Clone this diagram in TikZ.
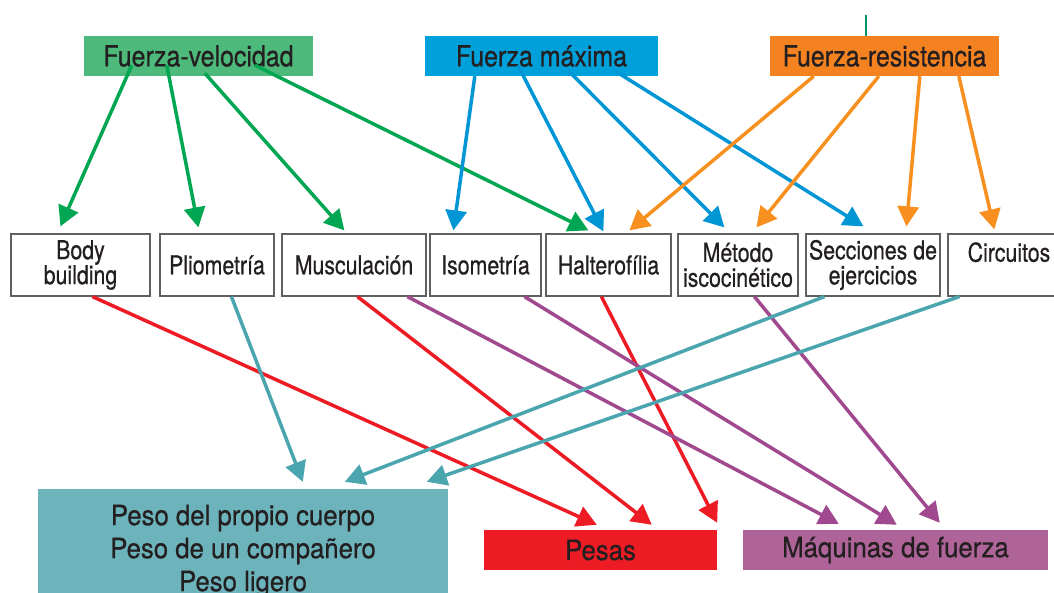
\documentclass[tikz,border=0pt]{standalone}
\usepackage{fontspec}
\setmainfont{TeX Gyre Heros}
\newfontfamily\topfont{TeX Gyre Heros}[FakeStretch=0.86,FakeBold=0.6]
\newfontfamily\midfont{TeX Gyre Heros}[FakeStretch=0.82,FakeBold=0.6]
\newfontfamily\lowfont{TeX Gyre Heros}[FakeStretch=0.92,FakeBold=0.6]
\usetikzlibrary{arrows.meta}

\definecolor{ink}{HTML}{231F20}
\definecolor{velfill}{HTML}{4DB97A}
\definecolor{velline}{HTML}{00A651}
\definecolor{maxfill}{HTML}{00A0DA}
\definecolor{maxline}{HTML}{0095D5}
\definecolor{resfill}{HTML}{F58220}
\definecolor{resline}{HTML}{F7901E}
\definecolor{pesred}{HTML}{ED1C24}
\definecolor{maqfill}{HTML}{AE6498}
\definecolor{maqline}{HTML}{A0498F}
\definecolor{cuefill}{HTML}{6DB3BB}
\definecolor{cueline}{HTML}{4AA5AE}
\definecolor{tickgreen}{HTML}{00946A}
\definecolor{boxgray}{HTML}{606060}

\begin{document}
\begin{tikzpicture}[x=1pt,y=-1pt]
        \tikzstyle{every node}+=[inner sep=0pt, text=ink]
        \tikzstyle{topbox}=[minimum height=40pt, font=\topfont\fontsize{29}{29}\selectfont]
        \tikzstyle{midbox}=[draw=boxgray, line width=1.2pt, fill=white, minimum height=62pt, align=center, font=\midfont\fontsize{26}{25}\selectfont]
        \tikzstyle{lowbox}=[align=center, font=\lowfont\fontsize{28}{33}\selectfont]
        \tikzstyle{arr}=[line width=3.5pt, -{Triangle[length=20pt,width=21pt]}]
        \useasboundingbox (0,0) rectangle (1054,593);
        \clip (0,0) rectangle (1054,593);
        \node [topbox, fill=velfill, minimum width=229pt] (vel) at (198.5,56) {Fuerza-velocidad};
        \node [topbox, fill=maxfill, minimum width=233pt] (max) at (541.5,56) {Fuerza máxima};
        \node [topbox, fill=resfill, minimum width=229pt] (res) at (884.5,56) {Fuerza-resistencia};
        \draw [tickgreen, line width=2pt] ([xshift=96pt]res.north west) -- ++(0,-21);
        \node [midbox, minimum width=139pt] (body) at (80.5,265) {Body\\building};
        \node [midbox, minimum width=114pt] (plio) at (217,265) {Pliometría};
        \node [midbox, minimum width=144pt] (musc) at (354,265) {Musculación};
        \node [midbox, minimum width=111pt] (iso) at (485.5,265) {Isometría};
        \node [midbox, minimum width=125pt] (halt) at (608.5,265) {Halterofília};
        \node [midbox, minimum width=120pt] (iscoc) at (738,265) {Método\\iscocinético};
        \node [midbox, minimum width=134pt] (secc) at (873,265) {Secciones de\\ejercicios};
        \node [midbox, minimum width=122pt, text depth=26pt] (circ) at (1009,265) {Circuitos};
        \node [lowbox, fill=cuefill, minimum width=410pt, minimum height=124pt] (cuerpo) at (243,551) {Peso del propio cuerpo\\Peso de un compañero\\Peso ligero};
        \node [lowbox, fill=pesred, minimum width=233pt, minimum height=40pt] (pesas) at (600.5,550) {Pesas};
        \node [lowbox, fill=maqfill, minimum width=305pt, minimum height=40pt] (maq) at (895.5,550) {Máquinas de fuerza};
        \draw [arr, velline] ([shift={(48,-11)}]vel.south west) -- ([shift={(50,-7)}]body.north west);
        \draw [arr, velline] ([shift={(83,-11)}]vel.south west) -- ([shift={(39,-6)}]plio.north west);
        \draw [arr, velline] ([shift={(121,-3)}]vel.south west) -- ([shift={(63,-3)}]musc.north west);
        \draw [arr, velline] ([shift={(171,-11)}]vel.south west) -- ([shift={(43,-3)}]halt.north west);
        \draw [arr, maxline] ([shift={(50,0)}]max.south west) -- ([shift={(24,-3)}]iso.north west);
        \draw [arr, maxline] ([shift={(93,-11)}]max.south west) -- ([shift={(58,-2)}]halt.north west);
        \draw [arr, maxline] ([shift={(143,-6)}]max.south west) -- ([shift={(47,-6)}]iscoc.north west);
        \draw [arr, maxline] ([shift={(189,-6)}]max.south west) -- ([shift={(58,-7)}]secc.north west);
        \draw [arr, resline] ([shift={(44,0)}]res.south west) -- ([shift={(84,-3)}]halt.north west);
        \draw [arr, resline] ([shift={(109,0)}]res.south west) -- ([shift={(79,-6)}]iscoc.north west);
        \draw [arr, resline] ([shift={(150,0)}]res.south west) -- ([shift={(101,-7)}]secc.north west);
        \draw [arr, resline] ([shift={(189,0)}]res.south west) -- ([shift={(47,-4)}]circ.north west);
        \draw [arr, pesred] ([xshift=82pt]body.south west) -- ([shift={(113,-5)}]pesas.north west);
        \draw [arr, pesred] ([xshift=76pt]musc.south west) -- ([shift={(168,-5)}]pesas.north west);
        \draw [arr, pesred] ([xshift=56pt]halt.south west) -- ([shift={(0,-7)}]pesas.north east);
        \draw [arr, maqline] ([xshift=126pt]musc.south west) -- ([shift={(96,-6)}]maq.north west);
        \draw [arr, maqline] ([xshift=95pt]iso.south west) -- ([shift={(154,-5)}]maq.north west);
        \draw [arr, maqline] ([xshift=77pt]iscoc.south west) -- ([shift={(197,-7)}]maq.north west);
        \draw [arr, cueline] ([xshift=72pt]plio.south west) -- ([shift={(265,-7)}]cuerpo.north west);
        \draw [arr, cueline] ([xshift=19pt]secc.south west) -- ([shift={(307,-7)}]cuerpo.north west);
        \draw [arr, cueline] ([xshift=12pt]circ.south west) -- ([shift={(389,-7)}]cuerpo.north west);
\end{tikzpicture}
\end{document}
